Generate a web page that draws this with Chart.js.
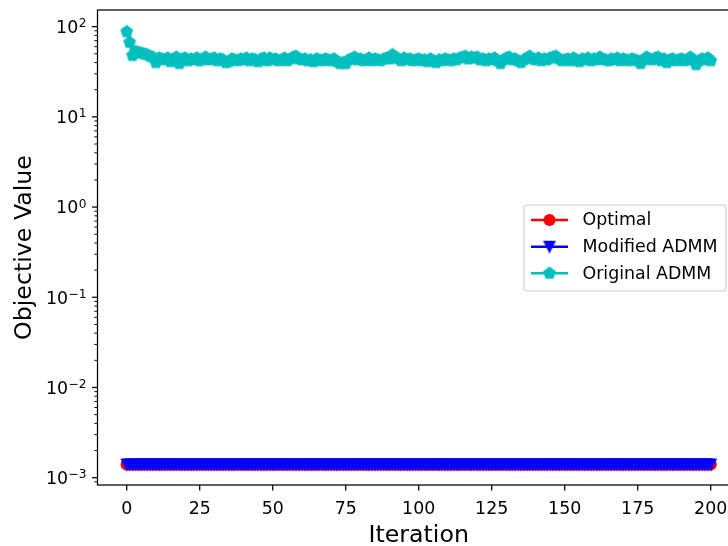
<!DOCTYPE html>
<html>
<head>
<meta charset="utf-8">
<script src="https://cdn.jsdelivr.net/npm/chart.js@4.4.1/dist/chart.umd.min.js"></script>
<style>
html, body { margin: 0; padding: 0; background: white; overflow: hidden; }
#wrap { width: 728px; height: 546px; overflow: hidden; }
</style>
</head>
<body>
<div id="wrap"><canvas id="grafico" width="760" height="546"></canvas></div>
<script>
// valores
const iterations = Array.from({ length: 201 }, (_, i) => i)

const optimal = [
  0.0014, 0.0014, 0.0014, 0.0014, 0.0014, 0.0014, 0.0014, 0.0014, 0.0014, 0.0014, 0.0014, 0.0014, 0.0014, 0.0014, 0.0014, 0.0014, 0.0014, 0.0014, 0.0014, 0.0014,
  0.0014, 0.0014, 0.0014, 0.0014, 0.0014, 0.0014, 0.0014, 0.0014, 0.0014, 0.0014, 0.0014, 0.0014, 0.0014, 0.0014, 0.0014, 0.0014, 0.0014, 0.0014, 0.0014, 0.0014,
  0.0014, 0.0014, 0.0014, 0.0014, 0.0014, 0.0014, 0.0014, 0.0014, 0.0014, 0.0014, 0.0014, 0.0014, 0.0014, 0.0014, 0.0014, 0.0014, 0.0014, 0.0014, 0.0014, 0.0014,
  0.0014, 0.0014, 0.0014, 0.0014, 0.0014, 0.0014, 0.0014, 0.0014, 0.0014, 0.0014, 0.0014, 0.0014, 0.0014, 0.0014, 0.0014, 0.0014, 0.0014, 0.0014, 0.0014, 0.0014,
  0.0014, 0.0014, 0.0014, 0.0014, 0.0014, 0.0014, 0.0014, 0.0014, 0.0014, 0.0014, 0.0014, 0.0014, 0.0014, 0.0014, 0.0014, 0.0014, 0.0014, 0.0014, 0.0014, 0.0014,
  0.0014, 0.0014, 0.0014, 0.0014, 0.0014, 0.0014, 0.0014, 0.0014, 0.0014, 0.0014, 0.0014, 0.0014, 0.0014, 0.0014, 0.0014, 0.0014, 0.0014, 0.0014, 0.0014, 0.0014,
  0.0014, 0.0014, 0.0014, 0.0014, 0.0014, 0.0014, 0.0014, 0.0014, 0.0014, 0.0014, 0.0014, 0.0014, 0.0014, 0.0014, 0.0014, 0.0014, 0.0014, 0.0014, 0.0014, 0.0014,
  0.0014, 0.0014, 0.0014, 0.0014, 0.0014, 0.0014, 0.0014, 0.0014, 0.0014, 0.0014, 0.0014, 0.0014, 0.0014, 0.0014, 0.0014, 0.0014, 0.0014, 0.0014, 0.0014, 0.0014,
  0.0014, 0.0014, 0.0014, 0.0014, 0.0014, 0.0014, 0.0014, 0.0014, 0.0014, 0.0014, 0.0014, 0.0014, 0.0014, 0.0014, 0.0014, 0.0014, 0.0014, 0.0014, 0.0014, 0.0014,
  0.0014, 0.0014, 0.0014, 0.0014, 0.0014, 0.0014, 0.0014, 0.0014, 0.0014, 0.0014, 0.0014, 0.0014, 0.0014, 0.0014, 0.0014, 0.0014, 0.0014, 0.0014, 0.0014, 0.0014,
  0.0014
]

const modifiedAdmm = [
  0.0014, 0.0014, 0.0014, 0.0014, 0.0014, 0.0014, 0.0014, 0.0014, 0.0014, 0.0014, 0.0014, 0.0014, 0.0014, 0.0014, 0.0014, 0.0014, 0.0014, 0.0014, 0.0014, 0.0014,
  0.0014, 0.0014, 0.0014, 0.0014, 0.0014, 0.0014, 0.0014, 0.0014, 0.0014, 0.0014, 0.0014, 0.0014, 0.0014, 0.0014, 0.0014, 0.0014, 0.0014, 0.0014, 0.0014, 0.0014,
  0.0014, 0.0014, 0.0014, 0.0014, 0.0014, 0.0014, 0.0014, 0.0014, 0.0014, 0.0014, 0.0014, 0.0014, 0.0014, 0.0014, 0.0014, 0.0014, 0.0014, 0.0014, 0.0014, 0.0014,
  0.0014, 0.0014, 0.0014, 0.0014, 0.0014, 0.0014, 0.0014, 0.0014, 0.0014, 0.0014, 0.0014, 0.0014, 0.0014, 0.0014, 0.0014, 0.0014, 0.0014, 0.0014, 0.0014, 0.0014,
  0.0014, 0.0014, 0.0014, 0.0014, 0.0014, 0.0014, 0.0014, 0.0014, 0.0014, 0.0014, 0.0014, 0.0014, 0.0014, 0.0014, 0.0014, 0.0014, 0.0014, 0.0014, 0.0014, 0.0014,
  0.0014, 0.0014, 0.0014, 0.0014, 0.0014, 0.0014, 0.0014, 0.0014, 0.0014, 0.0014, 0.0014, 0.0014, 0.0014, 0.0014, 0.0014, 0.0014, 0.0014, 0.0014, 0.0014, 0.0014,
  0.0014, 0.0014, 0.0014, 0.0014, 0.0014, 0.0014, 0.0014, 0.0014, 0.0014, 0.0014, 0.0014, 0.0014, 0.0014, 0.0014, 0.0014, 0.0014, 0.0014, 0.0014, 0.0014, 0.0014,
  0.0014, 0.0014, 0.0014, 0.0014, 0.0014, 0.0014, 0.0014, 0.0014, 0.0014, 0.0014, 0.0014, 0.0014, 0.0014, 0.0014, 0.0014, 0.0014, 0.0014, 0.0014, 0.0014, 0.0014,
  0.0014, 0.0014, 0.0014, 0.0014, 0.0014, 0.0014, 0.0014, 0.0014, 0.0014, 0.0014, 0.0014, 0.0014, 0.0014, 0.0014, 0.0014, 0.0014, 0.0014, 0.0014, 0.0014, 0.0014,
  0.0014, 0.0014, 0.0014, 0.0014, 0.0014, 0.0014, 0.0014, 0.0014, 0.0014, 0.0014, 0.0014, 0.0014, 0.0014, 0.0014, 0.0014, 0.0014, 0.0014, 0.0014, 0.0014, 0.0014,
  0.0014
]

const originalAdmm = [
  88, 67, 48, 53, 52, 51, 50, 49, 47, 46,
  40, 45, 44, 43, 45, 41, 44, 46, 39, 44,
  45, 42, 44, 43, 45, 42, 44, 46, 43, 44,
  45, 42, 44, 43, 40, 41, 44, 43, 42, 44,
  43, 45, 42, 44, 43, 41, 44, 45, 42, 45,
  43, 44, 42, 43, 45, 42, 44, 46, 47, 44,
  43, 44, 42, 43, 41, 44, 43, 42, 44, 43,
  42, 44, 41, 39, 40, 39, 43, 44, 46, 43,
  44, 42, 43, 45, 42, 44, 43, 42, 44, 45,
  44, 49, 46, 44, 42, 45, 43, 44, 42, 43,
  44, 42, 43, 41, 44, 42, 40, 43, 42, 44,
  43, 42, 44, 43, 45, 46, 47, 44, 46, 45,
  46, 43, 44, 42, 44, 43, 45, 42, 39, 43,
  45, 46, 43, 44, 42, 40, 43, 45, 47, 44,
  43, 45, 42, 44, 43, 45, 46, 47, 44, 42,
  43, 44, 42, 45, 43, 41, 44, 43, 45, 42,
  44, 43, 46, 44, 43, 42, 44, 43, 45, 42,
  44, 43, 42, 44, 43, 42, 39, 43, 46, 44,
  43, 45, 46, 42, 44, 40, 43, 44, 42, 43,
  44, 42, 43, 46, 43, 38, 42, 44, 43, 45,
  42
]

const seriesNames = ['Optimal', 'Modified ADMM', 'Original ADMM']
const xTicks = [0, 25, 50, 75, 100, 125, 150, 175, 200]
const yTicks = [1e-3, 1e-2, 1e-1, 1, 10, 100]
const yTickExps = ['\u22123', '\u22122', '\u22121', '0', '1', '2']
const xLimits = [-10, 210]
const yLimits = [0.00083, 153]

const FONT = "'DejaVu Sans'"

// marcadores no estilo matplotlib (triangulo 'v' e pentagono 'p')
function makeMarker(kind, color) {
  const c = document.createElement('canvas')
  c.width = 18
  c.height = 18
  const g = c.getContext('2d')
  const cx = 9, cy = 9
  g.beginPath()
  if (kind === 'v') {
    const h = 5.2
    g.moveTo(cx - h, cy - h)
    g.lineTo(cx + h, cy - h)
    g.lineTo(cx, cy + h)
  } else {
    const r = 5.8
    for (let k = 0; k < 5; k++) {
      const a = -Math.PI / 2 + k * 2 * Math.PI / 5
      if (k === 0) g.moveTo(cx + r * Math.cos(a), cy + r * Math.sin(a))
      else g.lineTo(cx + r * Math.cos(a), cy + r * Math.sin(a))
    }
  }
  g.closePath()
  g.fillStyle = color
  g.fill()
  g.lineWidth = 1.5
  g.strokeStyle = color
  g.stroke()
  return c
}

const colors = ['#ff0000', '#0000ff', '#00bfbf']
const triDown = makeMarker('v', colors[1])
const pentagon = makeMarker('p', colors[2])

const toPoints = vals => iterations.map((it, i) => ({ x: it, y: vals[i] }))

const data = {
  datasets: [
    {
      label: seriesNames[0], data: toPoints(optimal), order: 2,
      borderColor: colors[0], backgroundColor: colors[0], borderWidth: 2.4,
      pointStyle: 'circle', pointRadius: 5.4, pointBorderWidth: 1.5,
      pointBackgroundColor: colors[0], pointBorderColor: colors[0]
    },
    {
      label: seriesNames[1], data: toPoints(modifiedAdmm), order: 1,
      borderColor: colors[1], backgroundColor: colors[1], borderWidth: 2.4,
      pointStyle: triDown, pointRadius: 6
    },
    {
      label: seriesNames[2], data: toPoints(originalAdmm), order: 0,
      borderColor: colors[2], backgroundColor: colors[2], borderWidth: 2.4,
      pointStyle: pentagon, pointRadius: 6
    }
  ]
}

// eixos, ticks, rotulos e legenda desenhados por cima
const axesPlugin = {
  id: 'axesPlugin',
  afterDraw(chart) {
    const c = chart.ctx
    const a = chart.chartArea
    const xs = chart.scales.x
    const ys = chart.scales.y
    c.save()
    c.strokeStyle = '#000'
    c.fillStyle = '#000'

    // ticks x
    c.lineWidth = 1.25
    c.font = `17.4px ${FONT}`
    c.textAlign = 'center'
    c.textBaseline = 'alphabetic'
    xTicks.forEach(v => {
      const px = xs.getPixelForValue(v)
      c.beginPath()
      c.moveTo(px, a.bottom)
      c.lineTo(px, a.bottom + 5.5)
      c.stroke()
      c.fillText(String(v), px, 513.5)
    })

    // ticks menores y
    c.lineWidth = 0.95
    for (let e = -4; e <= 2; e++) {
      for (let k = 2; k <= 9; k++) {
        const v = k * Math.pow(10, e)
        if (v < yLimits[0] || v > yLimits[1]) continue
        const py = ys.getPixelForValue(v)
        c.beginPath()
        c.moveTo(a.left, py)
        c.lineTo(a.left - 3.2, py)
        c.stroke()
      }
    }

    // ticks maiores y com expoente
    c.lineWidth = 1.25
    yTicks.forEach((v, i) => {
      const py = ys.getPixelForValue(v)
      c.beginPath()
      c.moveTo(a.left, py)
      c.lineTo(a.left - 5.5, py)
      c.stroke()
      c.textAlign = 'right'
      c.font = `12.2px ${FONT}`
      const expW = c.measureText(yTickExps[i]).width
      const right = a.left - 11
      c.fillText(yTickExps[i], right, py + 0.5)
      c.font = `17.4px ${FONT}`
      c.fillText('10', right - expW - 0.5, py + 6.3)
    })

    // moldura
    c.lineWidth = 1.25
    c.strokeRect(a.left, a.top, a.right - a.left, a.bottom - a.top)

    // titulos dos eixos
    c.font = `23.7px ${FONT}`
    c.textAlign = 'center'
    c.fillText('Iteration', (a.left + a.right) / 2, 542)
    c.save()
    c.translate(30.5, (a.top + a.bottom) / 2)
    c.rotate(-Math.PI / 2)
    c.fillText('Objective Value', 0, 0)
    c.restore()

    // legenda
    const bx = 524, by = 205, bw = 202, bh = 86
    c.beginPath()
    c.roundRect(bx, by, bw, bh, 3.5)
    c.fillStyle = 'rgba(255,255,255,0.8)'
    c.fill()
    c.strokeStyle = '#cccccc'
    c.lineWidth = 1.1
    c.stroke()
    const rows = [220, 246.7, 273.3]
    const markers = [null, triDown, pentagon]
    chart.data.datasets.forEach((ds, i) => {
      const y = rows[i]
      c.strokeStyle = ds.borderColor
      c.lineWidth = 2.4
      c.beginPath()
      c.moveTo(531, y)
      c.lineTo(568, y)
      c.stroke()
      const mx = 549.5
      if (markers[i]) {
        c.drawImage(markers[i], mx - 9, y - 9)
      } else {
        c.fillStyle = ds.borderColor
        c.beginPath()
        c.arc(mx, y, 6.1, 0, Math.PI * 2)
        c.fill()
      }
      c.fillStyle = '#000'
      c.font = `17.4px ${FONT}`
      c.textAlign = 'left'
      c.fillText(ds.label, 582.5, y + 5.4)
    })
    c.restore()
  }
}

const config = {
  type: 'line',
  data,
  options: {
    responsive: false,
    animation: false,
    devicePixelRatio: 1,
    layout: { padding: { left: 97.5, right: 20.1, top: 10, bottom: 61 } },
    plugins: { legend: { display: false }, tooltip: { enabled: false } },
    scales: {
      x: { type: 'linear', min: xLimits[0], max: xLimits[1], display: false },
      y: { type: 'logarithmic', min: yLimits[0], max: yLimits[1], display: false }
    }
  },
  plugins: [axesPlugin]
}

let ctx = document.getElementById('grafico')
const graph = new Chart(ctx, config)
</script>
</body>
</html>
